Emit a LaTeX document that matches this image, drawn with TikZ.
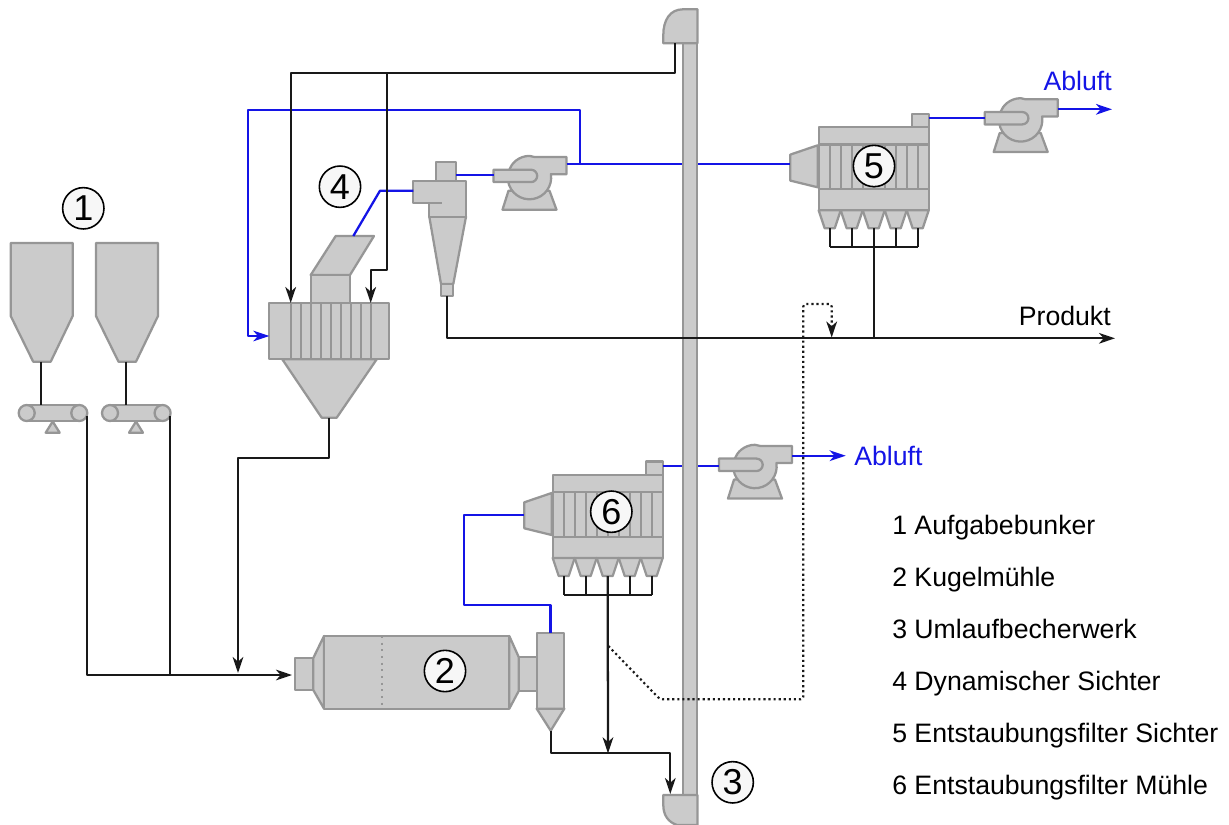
\documentclass[tikz,border=0pt]{standalone}
\usepackage{fontspec}
\setmainfont{Liberation Sans}
\usepackage{xcolor}
\usepackage{tikz}
\usetikzlibrary{arrows.meta, positioning, fit}
\definecolor{PartFill}{RGB}{203,203,203}
\definecolor{PartRule}{RGB}{150,150,150}
\definecolor{AirBlue}{RGB}{20,20,230}
\definecolor{PipeBlack}{RGB}{25,25,25}
\definecolor{TagFill}{RGB}{247,247,247}

\tikzset{
  part/.style={draw=PartRule, fill=PartFill, line width=1.7pt, line join=round},
  boxpart/.style={part, inner sep=0pt, outer sep=0pt},
  pipe/.style={draw=PipeBlack, line width=1.7pt, line join=round},
  airline/.style={draw=AirBlue, line width=1.7pt, line join=round},
  dotline/.style={draw=PipeBlack, line width=1.6pt, dash pattern=on 1.6pt off 2.2pt, rounded corners=2pt},
  arrow/.style={-{Stealth[length=12pt, width=8pt, inset=3.5pt]}},
  tag/.style={circle, draw=black, fill=TagFill, line width=1.2pt, minimum size=31pt,
              inner sep=0pt, font=\fontsize{27pt}{27pt}\selectfont},
  legend/.style={anchor=west, inner sep=0pt, text height=14.3pt, text depth=0pt,
                 font=\fontsize{20pt}{24pt}\selectfont},
  flowtext/.style={anchor=west, inner sep=0pt, text height=14.3pt, text depth=0pt,
                   font=\fontsize{20pt}{24pt}\selectfont}
}

% fan: centre of the wheel at #2,#3
\newcommand{\fanunit}[3]{
  \begin{scope}[shift={(#2,#3)}]
    \draw[part] (-21,13) -- (-27,32) -- (27,32) -- (20,13) -- cycle;
    \draw[part] (37,-3.5) -- (21.4,-3.5) arc (-9:270:21.7) -- (5,-20.7) -- (37,-20.7) -- cycle;
    \draw[part] (-36,-8) -- (1.5,-8) arc (270:450:6.2) -- (-36,4.4) -- cycle;
    \coordinate (#1in) at (-36,-2);
    \coordinate (#1out) at (37,-11);
  \end{scope}
}

% filter: top left corner of the casing at #2,#3
\newcommand{\filterunit}[3]{
  \begin{scope}[shift={(#2,#3)}]
    \node[boxpart, fit={(93,-13.5) (110,0)}] (#1stub) {};
    \draw[part] (-1,18) -- (-28.4,27.3) -- (-28.4,53.3) -- (-1,60) -- cycle;
    \node[boxpart, fit={(0,0) (110,83)}] (#1case) {};
    \draw[part] (0,17.3) -- (110,17.3);
    \draw[part] (0,61.7) -- (110,61.7);
    \foreach \i in {1,...,9} \draw[part] (11*\i,17.3) -- (11*\i,61.7);
    \coordinate (#1bus) at (55,120);
    \foreach \i in {0,...,4} {
      \draw[part] (22*\i,83) -- (22*\i+22,83) -- (22*\i+16,101) -- (22*\i+6,101) -- cycle;
      \coordinate (#1hop\i) at (22*\i+11,101);
      \draw[pipe] (#1hop\i) -- (#1hop\i |- #1bus);
    }
    \draw[pipe] (#1hop0 |- #1bus) -- (#1hop4 |- #1bus);
    \coordinate (#1in) at (-28.4,40);
    \coordinate (#1out) at (110,-9);
    \coordinate (#1dust) at (55,101);
  \end{scope}
}

\begin{document}
\begin{tikzpicture}[x=0.75pt, y=-0.75pt]
\useasboundingbox (0,0) rectangle (1229,825);

% bins and belts
\foreach \s/\sx/\bx in {1/10.7/26.7, 2/96/110} {
  \draw[part] (\sx,243) -- (\sx+62,243) -- (\sx+62,316) -- (\sx+40,361.7) -- (\sx+22.5,361.7) -- (\sx,316) -- cycle;
  \draw[part] (\bx+26,421.5) -- (\bx+33,432.7) -- (\bx+19,432.7) -- cycle;
  \draw[part] (\bx,405) -- (\bx+52.6,405) -- (\bx+52.6,421) -- (\bx,421) -- cycle;
  \node[boxpart, circle, minimum size=12pt] (roll\s a) at (\bx,413) {};
  \node[boxpart, circle, minimum size=12pt] (roll\s b) at (\bx+52.6,413) {};
  \coordinate (silo\s out) at (\sx+30,361.7);
  \coordinate (belt\s in) at (\sx+30,405);
  \coordinate (belt\s out) at (\bx+60.3,416);
  \draw[pipe] (silo\s out) -- (belt\s in);
}

% ball mill
\node[boxpart, fit={(294.7,658) (313.3,690)}] (millstub) {};
\draw[part] (313.3,658) -- (324,636) -- (324,708.7) -- (313.3,690) -- cycle;
\node[boxpart, fit={(324,636) (509.3,708.7)}] (millbody) {};
\draw[part] (509.3,636) -- (518.7,657) -- (518.7,691) -- (509.3,708.7) -- cycle;
\node[boxpart, fit={(518.7,657) (536.7,691)}] (millneck) {};
\node[boxpart, fit={(536.7,632.7) (564.3,708.7)}] (millhead) {};
\draw[part] (536.7,708.7) -- (564.3,708.7) -- (550.7,730.7) -- cycle;
\draw[draw=PartRule, line width=1.5pt, dash pattern=on 1.5pt off 3.5pt] (382,636) -- (382,708.7);

% classifier
\draw[part] (335.7,236) -- (374,236) -- (350,275) -- (310.7,275) -- cycle;
\node[boxpart, fit={(310.7,275) (350,303.3)}] (chute) {};
\draw[part] (282.3,359.3) -- (376.7,359.3) -- (336.7,417.7) -- (321.7,417.7) -- cycle;
\node[boxpart, fit={(269.3,303.3) (389,359.3)}] (sichter) {};
\foreach \i in {0,...,8} \draw[part] (290.7+10*\i,303.3) -- (290.7+10*\i,359.3);

% cyclone
\node[boxpart, fit={(436,161.7) (456,180.7)}] (cyctop) {};
\draw[part] (429.3,216.7) -- (466,216.7) -- (453.3,284) -- (441,284) -- cycle;
\draw[part] (413.3,180.7) -- (466,180.7) -- (466,216.7) -- (429.3,216.7) -- (429.3,203.3) -- (413.3,203.3) -- cycle;
\draw[part] (429.3,203.3) -- (442,203.3);
\node[boxpart, fit={(441,284) (453.3,295.7)}] (cycfoot) {};

\fanunit{fana}{529.5}{177.7}
\fanunit{fanb}{1020.7}{120}
\fanunit{fanc}{755}{466.6}
\filterunit{fila}{818.7}{127.3}
\filterunit{filb}{552.7}{475}

% waypoints
\coordinate (millin) at (292,675);
\coordinate (millout) at (550.7,730.7);
\coordinate (sichtout) at (329.3,417.7);
\coordinate (grobknick) at (238,458);
\coordinate (grobend) at (238,673);
\coordinate (sichtairin) at (269.3,336);
\coordinate (airleft) at (248,110);
\coordinate (airjoin) at (580,164);
\coordinate (chuteair) at (353.3,236);
\coordinate (cycin) at (413.3,190.7);
\coordinate (cycknick) at (380,190.7);
\coordinate (cycair) at (456,174.7);
\coordinate (headup) at (675,43.3);
\coordinate (feedbar) at (675,72.7);
\coordinate (feeda) at (290.7,303);
\coordinate (feedb) at (387.3,270);
\coordinate (feedc) at (370.7,303);
\coordinate (produkt) at (1115,338.3);
\coordinate (dotfrom) at (608.3,646);
\coordinate (dotbend) at (660,699.3);
\coordinate (dotup) at (803.3,304);
\coordinate (dotend) at (831.7,337.5);
\coordinate (millair) at (463.7,605);
\coordinate (rejectjoin) at (608,753.3);
\coordinate (headin) at (670.3,794);
\coordinate (ablufta) at (1112,109.3);
\coordinate (abluftb) at (845.7,455.7);

% air lines
\draw[airline, arrow] (airjoin) |- (airleft) |- (sichtairin);
\draw[airline] (chuteair) -- (cycknick) -- (cycin);
\draw[airline] (cycair) -- (fanain |- cycair);
\draw[airline] (fanaout |- airjoin) -- (filain |- airjoin);
\draw[airline] (filaout) -- (fanbin |- filaout);
\draw[airline, arrow] (fanbout |- ablufta) -- (ablufta);
\draw[airline] (filbout) -- (fancin |- filbout);
\draw[airline, arrow] (fancout |- abluftb) -- (abluftb);
\draw[airline] (millhead.north) |- (millair) |- (filbin);

% bucket elevator
\node[boxpart, fit={(683.3,43.3) (696.7,795)}] (shaft) {};
\draw[part] (663.3,43.3) -- (663.3,35) .. controls (663.3,20) and (670,9.3) .. (683,9.3) -- (697.5,9.3) -- (697.5,43.3) -- cycle;
\draw[part] (663.3,795) -- (663.3,805) .. controls (663.3,815) and (668,822) .. (677,825) -- (697.5,825) -- (697.5,795) -- cycle;

% material lines
\draw[pipe, arrow] (belt1out) |- (millin);
\draw[pipe] (belt2out) -- (belt2out |- millin);
\draw[pipe, arrow] (sichtout) |- (grobknick) -- (grobend);
\draw[pipe, arrow] (headup) -- (feedbar) -| (feeda);
\draw[pipe, arrow] (feedbar -| feedb) -- (feedb) -- (feedb -| feedc) -- (feedc);
\draw[pipe, arrow] (cycfoot.south) |- (produkt);
\draw[pipe] (filadust) -- (filabus |- produkt);
\draw[pipe, arrow] (filbdust) -- (rejectjoin);
\draw[pipe, arrow] (millout) |- (rejectjoin) -| (headin);
\draw[dotline, arrow] (dotfrom) -- (dotbend) -| (dotup) -- (dotup -| dotend) -- (dotend);

% numbers
\node[tag] (nr1) at (83.3,208.3) {1};
\node[tag] (nr2) at (445,671) {2};
\node[tag] (nr3) at (732.7,782.3) {3};
\node[tag] (nr4) at (340,186.7) {4};
\node[tag] (nr5) at (874,166) {5};
\node[tag] (nr6) at (611.3,511.7) {6};

% texts
\node[flowtext, text=AirBlue, anchor=east] (abluftatext) at (1112,81) {Abluft};
\node[flowtext, text=AirBlue] (abluftbtext) at (854,455.5) {Abluft};
\node[flowtext, anchor=east] (produkttext) at (1111,315.5) {Produkt};
\foreach \n/\t in {1/Aufgabebunker, 2/Kugelmühle, 3/Umlaufbecherwerk, 4/Dynamischer Sichter,
                   5/Entstaubungsfilter Sichter, 6/Entstaubungsfilter Mühle}
  \node[legend] (leg\n) at (892,473+52*\n) {\n\ \t};
\end{tikzpicture}
\end{document}
